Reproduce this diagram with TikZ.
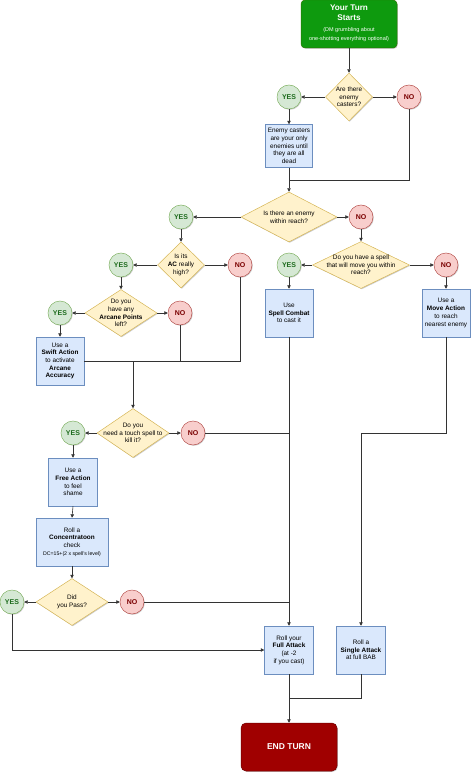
\documentclass[tikz,border=0pt]{standalone}
\usepackage{fontspec}
\setmainfont{Liberation Sans}
\usetikzlibrary{shapes.geometric,arrows.meta,shadows}
\definecolor{boxF}{HTML}{DAE8FC}\definecolor{boxD}{HTML}{6C8EBF}
\definecolor{diaF}{HTML}{FFF2CC}\definecolor{diaD}{HTML}{D6B656}
\definecolor{yesF}{HTML}{D5E8D4}\definecolor{yesD}{HTML}{82B366}\definecolor{yesT}{HTML}{1E6B1E}
\definecolor{noF}{HTML}{F8CECC}\definecolor{noD}{HTML}{B85450}\definecolor{noT}{HTML}{7A0000}
\definecolor{startF}{HTML}{0E9A0E}\definecolor{startD}{HTML}{2D7600}
\definecolor{endF}{HTML}{A00000}\definecolor{endD}{HTML}{6F0000}
\tikzset{
  shad/.style={drop shadow={shadow xshift=0.8pt,shadow yshift=-0.8pt,opacity=0.2,fill=black}},
  boxn/.style={rectangle,draw=boxD,fill=boxF,line width=0.5pt,inner sep=0pt,minimum width=48pt,minimum height=48pt,align=center,font=\fontsize{6.4}{7.7}\selectfont,shad},
  dia/.style={diamond,draw=diaD,fill=diaF,line width=0.5pt,inner sep=0pt,shad},
  dtxt/.style={font=\fontsize{6.4}{7.7}\selectfont,align=center,inner sep=0pt},
  yesn/.style={circle,draw=yesD,fill=yesF,line width=0.5pt,minimum size=24pt,inner sep=0pt,font=\fontsize{7}{8}\selectfont\bfseries,text=yesT,shad},
  non/.style={circle,draw=noD,fill=noF,line width=0.5pt,minimum size=24pt,inner sep=0pt,font=\fontsize{7}{8}\selectfont\bfseries,text=noT,shad},
  conn/.style={draw=black!80,line width=0.6pt},
  arr/.style={conn,-{Triangle[length=3.4pt,width=3.4pt]}},
}
\begin{document}
\begin{tikzpicture}[x=1pt,y=-1pt]
\useasboundingbox (0,0) rectangle (474,775);
% start
\node[rectangle,rounded corners=4pt,draw=startD,fill=startF,line width=0.5pt,minimum width=96pt,minimum height=48pt,text=white,inner sep=0pt,font=\fontsize{5.5}{9}\selectfont,shad] (st) at (349,24) {\raisebox{-1.5pt}{\begin{tabular}{@{}c@{}}\fontsize{8.2}{10}\selectfont\bfseries Your Turn\\[0.4pt]\fontsize{8.2}{10}\selectfont\bfseries Starts\\[2.8pt](DM grumbling about\\one-shotting everything optional)\end{tabular}}};
\node[dia,minimum width=47pt,minimum height=48pt,label={[dtxt]center:{Are there\\enemy\\casters?}}] (d1) at (349,97) {};
\node[yesn] (y1) at (289,97) {YES};
\node[non] (n1) at (409,97) {NO};
\node[boxn,minimum width=47pt,minimum height=43pt] (b1) at (289,146) {Enemy casters\\are your only\\enemies until\\they are all\\dead};
\node[dia,minimum width=96pt,minimum height=50pt,label={[dtxt]center:{Is there an enemy\\within reach?}}] (d2) at (289,217) {};
\node[yesn] (y2) at (181,217) {YES};
\node[non] (n2) at (361,217) {NO};
\node[dia,minimum width=47pt,minimum height=46pt,label={[dtxt]center:{Is its\\\textbf{AC} really\\high?}}] (d3) at (181,265) {};
\node[yesn] (y3) at (121,265) {YES};
\node[non] (n3) at (240,265) {NO};
\node[dia,minimum width=72pt,minimum height=47pt,label={[dtxt]center:{Do you\\have any\\\textbf{Arcane Points}\\left?}}] (d4) at (121,313) {};
\node[yesn] (y4) at (60,313) {YES};
\node[non] (n4) at (180,313) {NO};
\node[boxn] (b2) at (60,361) {Use a\\\textbf{Swift Action}\\to activate\\\textbf{Arcane}\\\textbf{Accuracy}};
\node[dia,minimum width=72pt,minimum height=49pt,label={[dtxt]center:{Do you\\need a touch spell to\\kill it?}}] (d5) at (133,433) {};
\node[yesn] (y5) at (73,433) {YES};
\node[non] (n5) at (193,433) {NO};
\node[dia,minimum width=97pt,minimum height=47pt,label={[dtxt]center:{Do you have a spell\\that will move you within\\reach?}}] (d6) at (361,265) {};
\node[yesn] (y6) at (289,265) {YES};
\node[non] (n6) at (446,265) {NO};
\node[boxn] (b3) at (289,313) {Use\\\textbf{Spell Combat}\\to cast it};
\node[boxn] (b4) at (446,313) {Use a\\\textbf{Move Action}\\to reach\\nearest enemy};
\node[boxn,minimum width=49pt] (b5) at (73,482) {Use a\\\textbf{Free Action}\\to feel\\shame};
\node[boxn,minimum width=72pt] (b6) at (72,542) {Roll a\\\textbf{Concentratoon}\\check\\\fontsize{5.2}{7.7}\selectfont DC=15+(2 x spell's level)};
\node[dia,minimum width=72pt,minimum height=47pt,label={[dtxt]center:{Did\\you Pass?}}] (d7) at (72,602) {};
\node[yesn] (y7) at (12,602) {YES};
\node[non] (n7) at (132,602) {NO};
\node[boxn,minimum width=49pt] (b9) at (289,650) {Roll your\\\textbf{Full Attack}\\(at -2\\if you cast)};
\node[boxn,minimum width=49pt] (b10) at (361,650) {Roll a\\\textbf{Single Attack}\\at full BAB};
\node[rectangle,rounded corners=5pt,draw=endD,fill=endF,line width=0.5pt,minimum width=96pt,minimum height=48pt,text=white,font=\fontsize{8.5}{10}\selectfont\bfseries,shad] (fin) at (289,747) {END TURN};
% junctions
\coordinate (j1) at (289,180);
\coordinate (j2) at (133,361);
\coordinate (j3) at (361,433);
\coordinate (j4) at (289,698);
% connectors
\draw[arr] (st.south) -- (d1.north);
\draw[arr] (d1.west) -- (y1.east);
\draw[arr] (d1.east) -- (n1.west);
\draw[arr] (y1.south) -- (b1.north);
\draw[conn] (n1.south) |- (j1);
\draw[arr] (b1.south) -- (d2.north);
\draw[arr] (d2.west) -- (y2.east);
\draw[arr] (d2.east) -- (n2.west);
\draw[arr] (y2.south) -- (d3.north);
\draw[arr] (d3.west) -- (y3.east);
\draw[arr] (d3.east) -- (n3.west);
\draw[arr] (y3.south) -- (d4.north);
\draw[arr] (d4.west) -- (y4.east);
\draw[arr] (d4.east) -- (n4.west);
\draw[arr] (y4.south) -- (b2.north);
\draw[conn] (n3.south) |- (b2.east);
\draw[conn] (n4.south) -- (n4.south |- b2.east);
\draw[arr] (j2) -- (d5.north);
\draw[arr] (d5.west) -- (y5.east);
\draw[arr] (d5.east) -- (n5.west);
\draw[conn] (n5.east) -- (n5.east -| b3.south);
\draw[arr] (n2.south) -- (d6.north);
\draw[arr] (d6.west) -- (y6.east);
\draw[arr] (d6.east) -- (n6.west);
\draw[arr] (y6.south) -- (b3.north);
\draw[arr] (n6.south) -- (b4.north);
\draw[arr] (b3.south) -- (b9.north);
\draw[arr] (b4.south) |- (j3) -- (b10.north);
\draw[arr] (y5.south) -- (b5.north);
\draw[arr] (b5.south) -- (b6.north);
\draw[arr] (b6.south) -- (d7.north);
\draw[arr] (d7.west) -- (y7.east);
\draw[arr] (d7.east) -- (n7.west);
\draw[conn] (n7.east) -- (n7.east -| b9.north);
\draw[arr] (y7.south) |- (b9.west);
\draw[arr] (b9.south) -- (fin.north);
\draw[conn] (b10.south) |- (j4);
\end{tikzpicture}
\end{document}
